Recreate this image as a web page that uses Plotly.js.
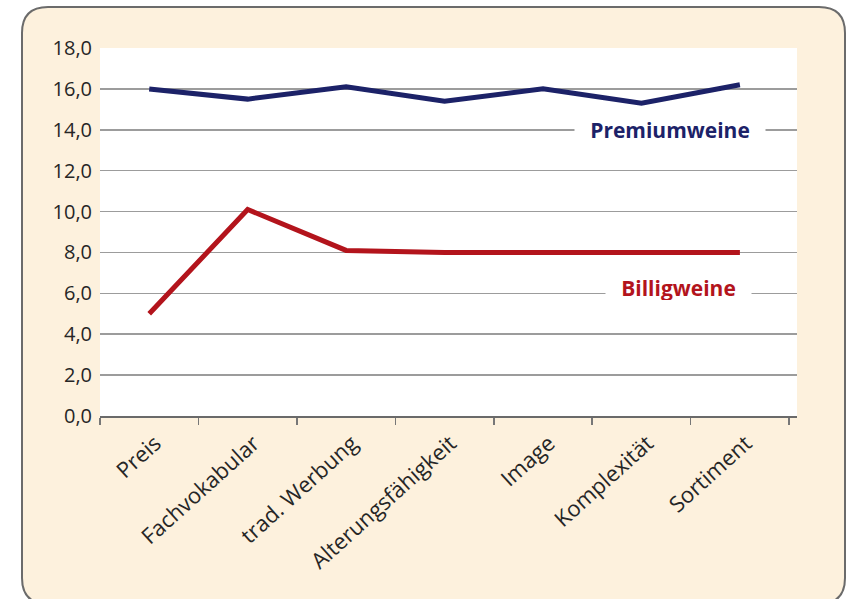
<!DOCTYPE html>
<html><head><meta charset="utf-8">
<script src="https://cdn.plot.ly/plotly-3.0.1.min.js"></script>
<style>html,body{margin:0;padding:0;background:#fff;}#chart{width:848px;height:599px;}</style>
</head><body><div id="chart"></div>
<script>
const categories = ["Preis","Fachvokabular","trad. Werbung","Alterungsfähigkeit","Image","Komplexität","Sortiment"];
const premium = [16.0, 15.5, 16.1, 15.4, 16.0, 15.3, 16.2];
const billig = [5.0, 10.1, 8.1, 8.0, 8.0, 8.0, 8.0];
const seriesNames = ["Premiumweine","Billigweine"];

const W = 848, H = 599, L = 100, R = 51, T = 48, B = 183;
const pw = W - L - R, ph = H - T - B;
const px = x => (x - L) / pw;
const py = y => (H - B - y) / ph;

function roundRect(x0, y0, x1, y1, r) {
  const X = px, Y = py;
  return `M ${X(x0 + r)} ${Y(y0)} L ${X(x1 - r)} ${Y(y0)} Q ${X(x1)} ${Y(y0)} ${X(x1)} ${Y(y0 + r)} ` +
    `L ${X(x1)} ${Y(y1 - r)} Q ${X(x1)} ${Y(y1)} ${X(x1 - r)} ${Y(y1)} L ${X(x0 + r)} ${Y(y1)} ` +
    `Q ${X(x0)} ${Y(y1)} ${X(x0)} ${Y(y1 - r)} L ${X(x0)} ${Y(y0 + r)} Q ${X(x0)} ${Y(y0)} ${X(x0 + r)} ${Y(y0)} Z`;
}

const traces = [
  {x: categories, y: premium, name: seriesNames[0], mode: 'lines', line: {color: '#1c2268', width: 5}, hoverinfo: 'y'},
  {x: categories, y: billig, name: seriesNames[1], mode: 'lines', line: {color: '#b3141c', width: 5}, hoverinfo: 'y'}
];

const font = "'Open Sans', 'Noto Sans', sans-serif";
const layout = {
  width: W, height: H,
  margin: {l: L, r: R, t: T, b: B, pad: 0},
  paper_bgcolor: '#ffffff',
  plot_bgcolor: '#ffffff',
  showlegend: false,
  separators: ',.',
  font: {family: font, size: 20, color: '#262626'},
  xaxis: {
    type: 'category',
    range: [-0.5, 6.58],
    tickangle: -42,
    showgrid: false, zeroline: false,
    showline: true, linecolor: '#6a6a6a', linewidth: 2,
    ticks: 'outside', tickson: 'boundaries', ticklen: 7, tickwidth: 1.5, tickcolor: '#777777',
    ticklabelshift: 6,
    ticklabelstandoff: 4,
    tickfont: {family: font, size: 22, color: '#262626'},
    fixedrange: true
  },
  yaxis: {
    range: [0, 18], dtick: 2, tickformat: '.1f',
    showgrid: true, gridcolor: '#9c9c9c', gridwidth: 1.5,
    zeroline: false, showline: false, ticks: '',
    ticklabelstandoff: 7,
    tickfont: {family: font, size: 20, color: '#262626'},
    fixedrange: true
  },
  shapes: [
    {type: 'path', xref: 'paper', yref: 'paper', layer: 'below',
     path: roundRect(22, 7, 845, 604, 26),
     fillcolor: '#fdf1dd', line: {color: '#6b6b6b', width: 2}},
    {type: 'rect', xref: 'paper', yref: 'paper', layer: 'below',
     x0: 0, x1: 1, y0: 0, y1: 1, fillcolor: '#ffffff', line: {width: 0}}
  ],
  annotations: [
    {x: 5.29, y: 14.0, xref: 'x', yref: 'y', text: '<b>' + seriesNames[0] + '</b>', showarrow: false,
     font: {family: font, size: 21, color: '#1c2268'}, bgcolor: '#ffffff', width: 188, height: 24},
    {x: 5.38, y: 6.0, xref: 'x', yref: 'y', text: '<b>' + seriesNames[1] + '</b>', showarrow: false,
     font: {family: font, size: 21, color: '#b3141c'}, bgcolor: '#ffffff', width: 143, height: 24, yshift: 5}
  ]
};

Plotly.newPlot('chart', traces, layout, {displayModeBar: false, staticPlot: true});
</script></body></html>
